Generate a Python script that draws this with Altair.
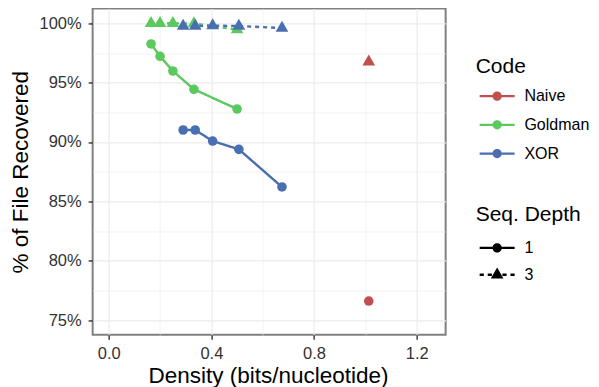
import altair as alt
import pandas as pd

# ---- data ----
codes = ["Naive", "Goldman", "XOR"]
depths = ["1", "3"]
code_colors = ["#C24F4F", "#5CC95F", "#4A6FB0"]

naive_density = [1.013]
naive_depth1 = [76.6]
naive_depth3 = [96.76]

goldman_density = [0.165, 0.2, 0.25, 0.332, 0.5]
goldman_depth1 = [98.26, 97.22, 95.98, 94.44, 92.78]
goldman_depth3 = [100.0, 100.0, 100.0, 99.98, 99.47]

xor_density = [0.29, 0.337, 0.405, 0.507, 0.675]
xor_depth1 = [91.01, 91.01, 90.08, 89.38, 86.21]
xor_depth3 = [99.77, 99.77, 99.8, 99.77, 99.6]

x_ticks = [0.0, 0.2, 0.4, 0.6, 0.8, 1.0, 1.2]
y_ticks = [75, 77.5, 80, 82.5, 85, 87.5, 90, 92.5, 95, 97.5, 100]
x_domain = [-0.0625, 1.3125]
y_domain = [73.75, 101.25]

rows = []
for code, dens, d1, d3 in [
    ("Naive", naive_density, naive_depth1, naive_depth3),
    ("Goldman", goldman_density, goldman_depth1, goldman_depth3),
    ("XOR", xor_density, xor_depth1, xor_depth3),
]:
    for x, v in zip(dens, d1):
        rows.append({"Code": code, "Depth": "1", "Density": x, "Recovered": v})
    for x, v in zip(dens, d3):
        rows.append({"Code": code, "Depth": "3", "Density": x, "Recovered": v})
df = pd.DataFrame(rows)

# ---- symbols ----
tri_path = "M0,-1.155L1,0.577L-1,0.577Z"
line_circle = ("M-2,-0.13H2V0.13H-2Z "
               "M-0.53,0A0.53,0.53 0 1,1 0.53,0A0.53,0.53 0 1,1 -0.53,0Z")
dash_tri = ("M-2,-0.13H-1.52V0.13H-2Z M-1.08,-0.13H-0.6V0.13H-1.08Z "
            "M0.6,-0.13H1.08V0.13H0.6Z M1.52,-0.13H2V0.13H1.52Z "
            "M0,-0.838L0.726,0.419L-0.726,0.419Z")

color_scale = alt.Scale(domain=codes, range=code_colors)

x_major = "round(datum.value*5) % 2 == 0"
y_major = "datum.value % 5 == 0"

x_axis = alt.Axis(
    values=x_ticks,
    labelExpr=f"{x_major} ? format(datum.value, '.1f') : ''",
    grid=True, gridColor="#ebebeb",
    gridWidth={"condition": {"test": x_major, "value": 1.2}, "value": 0.6},
    tickOpacity={"condition": {"test": x_major, "value": 1}, "value": 0},
    tickSize=4.5, tickWidth=1.4, tickColor="#333333", domain=False,
    labelFontSize=16.5, labelColor="#333333", labelPadding=6,
    labelOverlap=False, labelFlush=False,
    titleFontSize=22.5, titleFontWeight="normal", titleColor="black",
    titleX=175.4, titleY=47.5, titleBaseline="alphabetic",
)
y_axis = alt.Axis(
    values=y_ticks,
    labelExpr=f"{y_major} ? datum.value + '%' : ''",
    grid=True, gridColor="#ebebeb",
    gridWidth={"condition": {"test": y_major, "value": 1.2}, "value": 0.6},
    tickOpacity={"condition": {"test": y_major, "value": 1}, "value": 0},
    tickSize=4.5, tickWidth=1.4, tickColor="#333333", domain=False,
    labelFontSize=16.5, labelColor="#333333", labelPadding=7,
    labelOverlap=False, labelFlush=False,
    titleFontSize=22.5, titleFontWeight="normal", titleColor="black",
    titleX=-65.6, titleY=163.2, titleBaseline="alphabetic", titleAngle=270,
    titleAlign="center",
)

base = alt.Chart(df).encode(
    x=alt.X("Density:Q", scale=alt.Scale(domain=x_domain, nice=False, zero=False),
            axis=x_axis, title="Density (bits/nucleotide)"),
    y=alt.Y("Recovered:Q", scale=alt.Scale(domain=y_domain, nice=False, zero=False),
            axis=y_axis, title="% of File Recovered"),
)

legend_layer = base.mark_point(filled=True, opacity=0, size=306, strokeWidth=0).encode(
    color=alt.Color("Code:N", scale=color_scale, legend=alt.Legend(
        title="Code", orient="none", legendX=383, legendY=47.5,
        symbolType=line_circle, symbolSize=306, symbolStrokeWidth=0,
        symbolOpacity=1, symbolOffset=12.5, labelOffset=18.3,
        rowPadding=11.7, titlePadding=10.2, padding=0)),
    shape=alt.Shape("Depth:N", scale=alt.Scale(domain=depths, range=[line_circle, dash_tri]),
                    legend=alt.Legend(
        title="Seq. Depth", orient="none", legendX=383, legendY=196,
        symbolSize=306, symbolStrokeWidth=0, symbolFillColor="black",
        symbolOpacity=1, symbolOffset=12.5, labelOffset=18.3,
        rowPadding=9.8, titlePadding=13.5, padding=0)),
)

lines = base.mark_line(strokeWidth=2.4).encode(
    color=alt.Color("Code:N", scale=color_scale, legend=None),
    strokeDash=alt.StrokeDash("Depth:N",
                              scale=alt.Scale(domain=depths, range=[[1, 0], [4, 4]]),
                              legend=None),
)

circles = base.transform_filter("datum.Depth == '1'").mark_point(
    filled=True, shape="circle", size=92, opacity=1, strokeWidth=0
).encode(color=alt.Color("Code:N", scale=color_scale, legend=None))

triangles = base.transform_filter("datum.Depth == '3'").mark_point(
    filled=True, shape=tri_path, size=161, opacity=1, strokeWidth=0
).encode(color=alt.Color("Code:N", scale=color_scale, legend=None))

chart = alt.layer(legend_layer, lines, circles, triangles).properties(
    width=353, height=326.4,
    padding={"left": 84.65, "top": 0.46, "right": 145, "bottom": 52},
    autosize="none",
).configure(
    font="Liberation Sans",
).configure_view(
    stroke="#808080", strokeWidth=2,
).configure_legend(
    labelFontSize=16, labelColor="black", labelFont="Liberation Sans",
    titleFontSize=21, titleFontWeight="normal", titleColor="black",
    titleFont="Liberation Sans",
)

chart.save("out.html", embed_options={"renderer": "svg", "actions": False})
